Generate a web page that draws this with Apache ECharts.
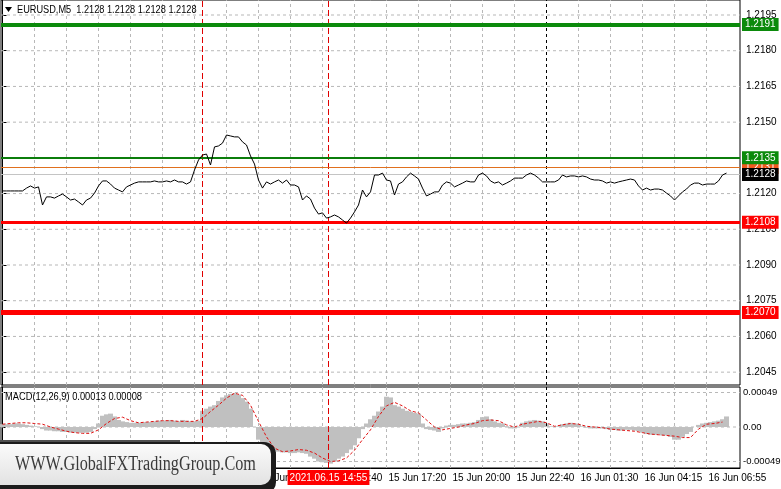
<!DOCTYPE html>
<html>
<head>
<meta charset="utf-8">
<script src="https://cdn.jsdelivr.net/npm/echarts@6/dist/echarts.min.js"></script>
<style>
html,body{margin:0;padding:0;background:#fff;}
#chart{width:781px;height:489px;}
</style>
</head>
<body>
<div id="chart"></div>
<script>
// ---------- DATA ----------
const symbolTitle = 'EURUSD,M5  1.2128 1.2128 1.2128 1.2128';
const macdTitle = 'MACD(12,26,9) 0.00013 0.00008';
const logoText = 'WWW.GlobalFXTradingGroup.Com';

// close prices, one sample every 2 bars (M5)
const priceStep = 2;
const prices = [
1.21211,1.21211,1.21211,1.21211,1.21211,1.21211,1.21223,1.21232,1.21223,1.21228,
1.21152,1.21186,1.21186,1.21181,1.21190,1.21198,1.21186,1.21173,1.21177,1.21165,
1.21152,1.21173,1.21181,1.21202,1.21232,1.21253,1.21253,1.21240,1.21223,1.21215,
1.21207,1.21228,1.21236,1.21244,1.21249,1.21249,1.21249,1.21249,1.21253,1.21249,
1.21249,1.21253,1.21249,1.21257,1.21249,1.21249,1.21240,1.21249,1.21299,1.21341,
1.21362,1.21366,1.21320,1.21396,1.21400,1.21412,1.21446,1.21442,1.21438,1.21438,
1.21417,1.21404,1.21358,1.21324,1.21257,1.21223,1.21249,1.21240,1.21249,1.21257,
1.21244,1.21257,1.21236,1.21236,1.21228,1.21173,1.21190,1.21177,1.21139,1.21114,
1.21119,1.21097,1.21102,1.21110,1.21102,1.21089,1.21076,1.21097,1.21123,1.21152,
1.21215,1.21186,1.21207,1.21278,1.21278,1.21286,1.21257,1.21253,1.21194,1.21240,
1.21249,1.21270,1.21286,1.21274,1.21261,1.21223,1.21190,1.21198,1.21207,1.21207,
1.21236,1.21249,1.21244,1.21228,1.21236,1.21244,1.21253,1.21249,1.21249,1.21278,
1.21286,1.21274,1.21253,1.21244,1.21249,1.21236,1.21244,1.21253,1.21265,1.21265,
1.21265,1.21278,1.21286,1.21278,1.21265,1.21249,1.21249,1.21249,1.21249,1.21257,
1.21278,1.21270,1.21274,1.21274,1.21270,1.21274,1.21270,1.21261,1.21257,1.21257,
1.21253,1.21244,1.21249,1.21244,1.21249,1.21253,1.21257,1.21261,1.21257,1.21232,
1.21215,1.21223,1.21215,1.21219,1.21219,1.21215,1.21202,1.21190,1.21173,1.21190,
1.21207,1.21219,1.21236,1.21244,1.21244,1.21236,1.21240,1.21240,1.21240,1.21253,
1.21278,1.21286
];

// MACD main histogram, one sample every 2 bars
const histStep = 2;
const macdHist = [
0.00004,0.00004,0.00004,0.00005,0.00005,0.00004,0.00003,0.00002,0.00001,0.00000,
-0.00003,-0.00005,-0.00005,-0.00006,-0.00006,-0.00007,-0.00007,-0.00008,-0.00008,-0.00008,
-0.00008,-0.00008,-0.00007,-0.00003,0.00005,0.00016,0.00018,0.00019,0.00015,0.00010,
0.00008,0.00007,0.00006,0.00006,0.00006,0.00006,0.00007,0.00007,0.00008,0.00009,
0.00009,0.00009,0.00010,0.00009,0.00008,0.00010,0.00009,0.00008,0.00008,0.00009,
0.00023,0.00026,0.00029,0.00031,0.00037,0.00042,0.00045,0.00047,0.00048,0.00046,
0.00041,0.00036,0.00026,0.00000,-0.00018,-0.00023,-0.00030,-0.00033,-0.00034,-0.00035,
-0.00036,-0.00036,-0.00037,-0.00037,-0.00036,-0.00037,-0.00038,-0.00042,-0.00045,-0.00049,
-0.00050,-0.00051,-0.00052,-0.00049,-0.00045,-0.00042,-0.00037,-0.00032,-0.00026,-0.00016,
-0.00003,0.00005,0.00011,0.00016,0.00022,0.00029,0.00043,0.00042,0.00031,0.00029,
0.00026,0.00023,0.00022,0.00020,0.00019,0.00005,-0.00003,-0.00004,-0.00005,-0.00007,
-0.00002,0.00002,0.00003,0.00003,0.00004,0.00005,0.00005,0.00006,0.00007,0.00010,
0.00014,0.00015,0.00011,0.00008,0.00006,0.00005,0.00001,-0.00002,-0.00002,0.00000,
0.00006,0.00008,0.00009,0.00010,0.00009,0.00008,0.00005,0.00001,0.00000,0.00001,
0.00004,0.00005,0.00006,0.00005,0.00004,0.00001,-0.00001,-0.00002,-0.00002,-0.00002,
-0.00002,-0.00003,-0.00004,-0.00004,-0.00005,-0.00005,-0.00004,-0.00004,-0.00005,-0.00006,
-0.00008,-0.00010,-0.00011,-0.00011,-0.00011,-0.00012,-0.00012,-0.00014,-0.00018,-0.00018,
-0.00014,-0.00010,-0.00007,0.00000,0.00003,0.00005,0.00006,0.00007,0.00008,0.00009,
0.00011,0.00015
];

// MACD signal line, one sample every 4 bars
const sigStep = 4;
const macdSignal = [
0.00004,0.00005,0.00006,0.00006,0.00005,0.00004,0.00000,-0.00003,-0.00006,-0.00008,
-0.00009,-0.00009,-0.00004,0.00005,0.00012,0.00014,0.00009,0.00006,0.00007,0.00008,
0.00009,0.00009,0.00008,0.00008,0.00008,0.00012,0.00022,0.00031,0.00041,0.00048,
0.00045,0.00031,0.00008,-0.00014,-0.00030,-0.00035,-0.00034,-0.00032,-0.00033,-0.00037,
-0.00044,-0.00049,-0.00048,-0.00044,-0.00033,-0.00018,-0.00004,0.00015,0.00030,0.00035,
0.00030,0.00023,0.00020,0.00010,0.00000,-0.00004,-0.00002,0.00000,0.00003,0.00005,
0.00009,0.00010,0.00009,0.00003,0.00000,0.00004,0.00006,0.00008,0.00006,0.00001,
0.00003,0.00005,0.00004,0.00001,0.00000,-0.00001,-0.00003,-0.00004,-0.00005,-0.00006,
-0.00008,-0.00010,-0.00011,-0.00012,-0.00013,-0.00015,-0.00015,-0.00003,0.00004,0.00005,
0.00007
];

// horizontal levels
const levelValues = [1.2191, 1.2135, 1.2131, 1.2108, 1.2070];
const bidValue = 1.2128;

// price axis ticks
const priceTicks = [1.2045,1.2060,1.2075,1.2090,1.2105,1.2120,1.2135,1.2150,1.2165,1.2180,1.2195];
const macdTicks = [-0.00049, 0, 0.00049];

// time axis (bar index from the left edge)
const gridBars = [16,32,48,64,80,96,112,128,144,160,176,192,208,224,240,256,288,304,320,336,352];
const timeTickBars = [0,32,64,96,128,160,192,224,256,288,320,352];
const timeTickLabels = ['15 Jun 01:20','15 Jun 04:00','15 Jun 06:40','15 Jun 09:20','15 Jun 12:00','15 Jun 14:40',
                        '15 Jun 17:20','15 Jun 20:00','15 Jun 22:40','16 Jun 01:30','16 Jun 04:15','16 Jun 06:55'];
const eventBars = [100, 163];
const eventLabel = '2021.06.15 14:55';
const daySeparatorBar = 272;

// ---------- STYLES / LAYOUT ----------
const levelStyles = [
  {color:'#0b8a0b', width:4, box:'#0b8a0b'},
  {color:'#0b7d0b', width:2, box:'#0b8a0b'},
  {color:'#e0701e', width:1, box:'#f05a1e'},
  {color:'#ff0000', width:3, box:'#ff0000'},
  {color:'#ff0000', width:5, box:'#ff0000'}
];
const FONT = '"Liberation Sans", Arial, sans-serif';
const GRID_STYLE = {color:'#b8b8b8', width:1, type:[3,3]};
const EVENT_STYLE = {color:'#e00000', width:1, type:[6,3]};
const DAY_STYLE = {color:'#000000', width:1, type:[3,3]};
const X_MIN = -0.75, X_MAX = 368.75;
const Y0 = [1.20396, 1.22013];
const Y1 = [-0.000582, 0.000568];

const chart = echarts.init(document.getElementById('chart'), null, {renderer:'canvas'});

const tagLabel = (box) => ({
  show:true, position:'end', distance:2, color:'#fff', backgroundColor:box,
  padding:[2,3,1,3], fontSize:10, fontFamily:FONT, formatter: p => Number(p.value).toFixed(4)
});

const hLines = levelValues.map((v,i)=>({
  yAxis:v, lineStyle:{color:levelStyles[i].color, width:levelStyles[i].width, type:'solid'},
  label:tagLabel(levelStyles[i].box)
}));
const orderedH = [hLines[2], hLines[0], hLines[1], hLines[3], hLines[4],
  {yAxis:bidValue, lineStyle:{color:'#c4c4c4', width:1, type:'solid'}, label:tagLabel('#000')}];

// guide lines drawn as plain line series through the axes
const guide = (gi, pts, style, z) => ({
  type:'line', xAxisIndex:gi, yAxisIndex:gi, data:pts, symbol:'none', showSymbol:false,
  lineStyle:style, silent:true, z:z, animation:false
});
const guides = [];
[0,1].forEach(gi=>{
  const yr = gi===0 ? Y0 : Y1;
  const yt = gi===0 ? priceTicks : macdTicks;
  gridBars.forEach(b=>guides.push(guide(gi, [[b,yr[0]],[b,yr[1]]], GRID_STYLE, 1)));
  yt.forEach(v=>guides.push(guide(gi, [[X_MIN,v],[X_MAX,v]], GRID_STYLE, 1)));
  eventBars.forEach(b=>guides.push(guide(gi, [[b,yr[0]],[b,yr[1]]], EVENT_STYLE, 3)));
  guides.push(guide(gi, [[daySeparatorBar,yr[0]],[daySeparatorBar,yr[1]]], DAY_STYLE, 3));
});

const option = {
  animation:false,
  backgroundColor:'#ffffff',
  grid:[
    {left:1, right:41, top:0, height:385, show:true, borderColor:'#000', borderWidth:1, backgroundColor:'transparent', containLabel:false, outerBoundsMode:'none'},
    {left:1, right:41, top:387, height:81, show:true, borderColor:'#000', borderWidth:1, backgroundColor:'transparent', containLabel:false, outerBoundsMode:'none'}
  ],
  xAxis:[
    {type:'value', gridIndex:0, min:X_MIN, max:X_MAX,
     axisLine:{show:false}, axisTick:{show:false}, axisLabel:{show:false}, splitLine:{show:false}},
    {type:'value', gridIndex:1, min:X_MIN, max:X_MAX,
     axisLine:{show:true, onZero:false, lineStyle:{color:'#000', width:1}},
     axisTick:{show:false},
     axisLabel:{show:true, customValues:timeTickBars, align:'left', margin:5, padding:[0,0,0,2],
       color:'#000', fontSize:10, fontFamily:FONT, hideOverlap:false,
       formatter: v => { const i = timeTickBars.indexOf(Math.round(v)); return i>=0 ? timeTickLabels[i] : ''; }},
     splitLine:{show:false}}
  ],
  yAxis:[
    {type:'value', gridIndex:0, position:'right', min:Y0[0], max:Y0[1],
     axisLine:{show:true, lineStyle:{color:'#000'}},
     axisTick:{show:true, length:4, customValues:priceTicks, lineStyle:{color:'#000'}},
     axisLabel:{customValues:priceTicks, margin:6, color:'#000', fontSize:10, fontFamily:FONT, formatter:v=>v.toFixed(4)},
     splitLine:{show:false}},
    {type:'value', gridIndex:1, position:'right', min:Y1[0], max:Y1[1],
     axisLine:{show:true, lineStyle:{color:'#000'}},
     axisTick:{show:true, length:3, customValues:macdTicks, lineStyle:{color:'#000'}},
     axisLabel:{customValues:macdTicks, margin:3, color:'#000', fontSize:9.5, fontFamily:FONT,
       formatter:v=> Math.abs(v)<1e-9 ? '0.00' : v.toFixed(5)},
     splitLine:{show:false}}
  ],
  series: guides.concat([
    // MACD histogram (+ event time tag on the time axis)
    {type:'bar', xAxisIndex:1, yAxisIndex:1, barWidth:5, itemStyle:{color:'#c0c0c0'},
     data: macdHist.map((v,k)=>[k*histStep, v]), silent:true, z:2,
     markLine:{silent:true, symbol:['none','none'], lineStyle:{color:'rgba(255,255,255,0)', width:1, type:'solid'},
       label:{show:true, opacity:1, position:'start', distance:2, formatter:eventLabel, color:'#fff', backgroundColor:'#ff0000',
              padding:[3,2,2,2], fontSize:10, fontFamily:FONT},
       data:[{xAxis:eventBars[1]}], z:6}},
    {type:'line', xAxisIndex:1, yAxisIndex:1, showSymbol:false, symbol:'none',
     lineStyle:{color:'#e01010', width:1, type:[3,2]},
     data: macdSignal.map((v,k)=>[k*sigStep, v]), silent:true, z:4},
    // price
    {type:'line', xAxisIndex:0, yAxisIndex:0, showSymbol:false, symbol:'none',
     lineStyle:{color:'#000', width:1}, data: prices.map((p,k)=>[k*priceStep, p]), silent:true, z:5,
     markLine:{silent:true, symbol:['none','none'], precision:4, data: orderedH, z:4}}
  ]),
  graphic:[
    {type:'polygon', shape:{points:[[5,7],[12,7],[8.5,12]]}, style:{fill:'#000'}, z:50},
    {type:'text', x:17, y:10, scaleX:0.92, style:{text:symbolTitle, font:'10px '+FONT, fill:'#000', verticalAlign:'middle'}, z:50},
    {type:'text', x:5, y:397, scaleX:0.93, style:{text:macdTitle, font:'10px '+FONT, fill:'#000', verticalAlign:'middle'}, z:50},
    {type:'rect', shape:{x:0, y:440, width:180, height:6}, style:{fill:'#505050'}, z:98},
    {type:'rect', shape:{x:-14, y:442, width:290, height:52, r:12}, style:{fill:'#1c1c1c'}, z:99},
    {type:'rect', shape:{x:-14, y:444, width:285, height:41, r:10},
     style:{fill:new echarts.graphic.LinearGradient(0,0,0,1,[{offset:0,color:'#fbfbfb'},{offset:1,color:'#e2e2e2'}])}, z:100},
    {type:'text', x:15, y:465, scaleX:0.81,
     style:{text:logoText, font:'20px "Liberation Serif", "DejaVu Serif", serif', fill:'#3a3a3a', verticalAlign:'middle',
            shadowColor:'rgba(0,0,0,0.65)', shadowBlur:3, shadowOffsetX:2, shadowOffsetY:2}, z:101}
  ]
};
chart.setOption(option);
</script>
</body>
</html>
